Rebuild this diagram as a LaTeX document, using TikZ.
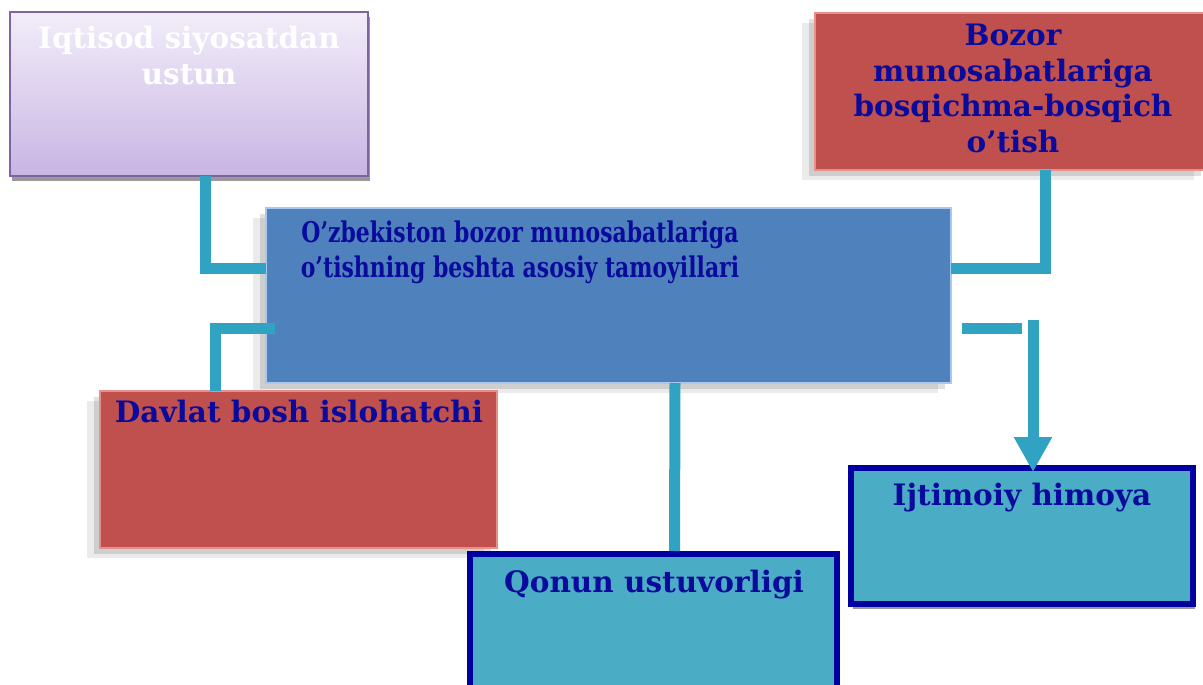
\documentclass[tikz,border=0pt]{standalone}
\usepackage{fontspec}
\setmainfont{DejaVu Serif}
\newfontfamily\narrowserif[FakeStretch=0.77]{DejaVu Serif}
\usetikzlibrary{arrows.meta, positioning, shadows}

\definecolor{navytext}{HTML}{0A0A9C}
\definecolor{navyedge}{HTML}{0000A0}
\definecolor{linkteal}{HTML}{2FA3C1}
\definecolor{boxteal}{HTML}{4BACC6}
\definecolor{boxred}{HTML}{C0504D}
\definecolor{redlight}{HTML}{E6908C}
\definecolor{boxblue}{HTML}{4F81BD}
\definecolor{bluelight}{HTML}{A9C8F0}
\definecolor{lilactop}{HTML}{F2EDF9}
\definecolor{lilacbot}{HTML}{C8B5E3}
\definecolor{lilacedge}{HTML}{8064A2}

\tikzset{
  box/.style={draw, anchor=north west, inner sep=0pt, outer sep=0pt, line width=1.5pt},
  thinshadow/.style={drop shadow={shadow xshift=2pt, shadow yshift=-5pt, fill=gray, opacity=.8}},
  softshadow/.style={drop shadow={shadow xshift=-6pt, shadow yshift=-6pt, fill=black, opacity=.12},
                     drop shadow={shadow xshift=-13pt, shadow yshift=-10pt, fill=black, opacity=.08}},
  lilacbox/.style={box, thinshadow, draw=lilacedge, top color=lilactop, bottom color=lilacbot},
  redbox/.style={box, softshadow, draw=redlight, fill=boxred, line width=2pt},
  bluebox/.style={box, softshadow, draw=bluelight, fill=boxblue, line width=2pt},
  tealbox/.style={box, thinshadow, draw=navyedge, fill=boxteal, line width=6pt},
  caption/.style={anchor=north, align=center, inner sep=0pt, text=navytext,
                  font=\bfseries\fontsize{29.5}{35.5}\selectfont},
  link/.style={draw=linkteal, line width=11pt},
}

\begin{document}
\begin{tikzpicture}[x=1pt, y=-1pt]
\useasboundingbox (0,0) rectangle (1203,685);

% boxes
\node[lilacbox, minimum width=358pt, minimum height=164pt] (policy) at (10,12) {};
\node[redbox, minimum width=392pt, minimum height=157pt] (stages) at (815,13) {};
\node[bluebox, minimum width=685pt, minimum height=175pt] (centre) at (266,208) {};
\node[redbox, minimum width=397pt, minimum height=157pt] (state) at (100,391) {};
\node[tealbox, minimum width=367pt, minimum height=140pt] (law) at (470,554) {};
\node[tealbox, minimum width=342pt, minimum height=136pt] (social) at (851,468) {};

% texts
\node[caption, text=white] (policy-t) at (189,26) {Iqtisod siyosatdan\\ustun};
\node[caption] (stages-t) at (1013,24) {Bozor\\munosabatlariga\\bosqichma-bosqich\\o’tish};
\node[caption, font=\narrowserif\bfseries\fontsize{28.5}{35}\selectfont] (centre-t) at (520,221)
  {O’zbekiston bozor munosabatlariga\\o’tishning beshta asosiy tamoyillari};
\node[caption] (state-t) at (299,400) {Davlat bosh islohatchi};
\node[caption] (law-t) at (654,570) {Qonun ustuvorligi};
\node[caption] (social-t) at (1022,483) {Ijtimoiy himoya};

% connectors
\coordinate (stub) at ([xshift=11pt,yshift=-33pt]centre.east);
\coordinate (drop) at ([xshift=82pt,yshift=-24.5pt]centre.east);
\draw[link] ([xshift=16pt]policy.south) |- ([yshift=27.5pt]centre.west);
\draw[link] ([xshift=34pt]stages.south) |- ([yshift=27.5pt]centre.east);
\draw[link] ([xshift=9pt,yshift=-33pt]centre.west) -| ([xshift=115pt]state.north west);
\draw[link] ([xshift=66.5pt]centre.south) -- ([xshift=21pt,yshift=3pt]law.north);
\draw[link] (stub) -- ++(60pt,0);
\draw[link, -{Triangle[width=36pt, length=35pt]}] (drop) -- ([yshift=-4pt]drop |- social.north);
\end{tikzpicture}
\end{document}
